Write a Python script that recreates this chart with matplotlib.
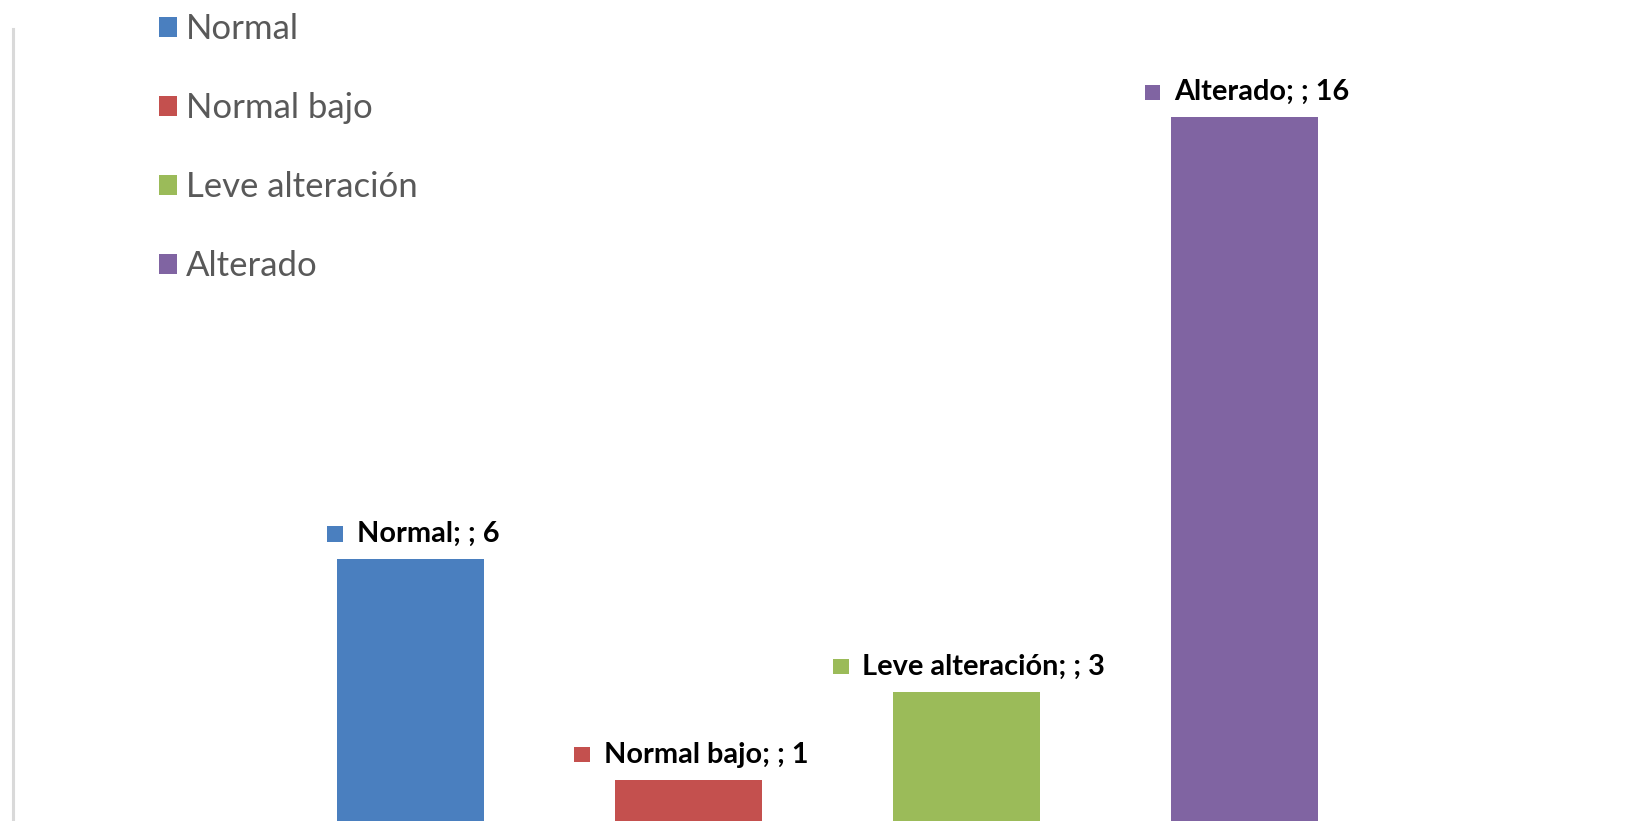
import matplotlib
matplotlib.use("Agg")
import matplotlib.pyplot as plt
from matplotlib.offsetbox import HPacker, DrawingArea, TextArea, AnnotationBbox
from matplotlib.patches import Rectangle

series = ["Normal", "Normal bajo", "Leve alteración", "Alterado"]
values = [6, 1, 3, 16]
colors = ["#4A7FBF", "#C4504E", "#9BBB59", "#8064A2"]
label_texts = [f"{s}; ; {v}" for s, v in zip(series, values)]

W, H, DPI = 16.26, 8.21, 100
fig = plt.figure(figsize=(W, H), dpi=DPI)
fig.patch.set_facecolor("white")

# axes: left edge at x=12px, top at y=29px, baseline just below the figure bottom
left_px, top_px, base_px = 12.5, 29, 824
ax = fig.add_axes([left_px / 1626, (821 - base_px) / 821,
                   1 - left_px / 1626, (base_px - top_px) / 821])
ax.set_facecolor("none")

xs = list(range(len(series)))
bars = []
for x, v, c, s in zip(xs, values, colors, series):
    b = ax.bar(x, v, width=0.53, color=c, label=s)
    bars.append(b)

spacing = 278.0
x0 = 410.5
ax.set_xlim((left_px - x0) / spacing, (1626 - x0) / spacing)
ax.set_ylim(0, 18)

for side in ["top", "right", "bottom"]:
    ax.spines[side].set_visible(False)
ax.spines["left"].set_color("#D9D9D9")
ax.spines["left"].set_linewidth(2.2)
ax.set_xticks([])
ax.set_yticks([])

# data labels with colour key
for x, v, c, t in zip(xs, values, colors, label_texts):
    da = DrawingArea(11, 11, 0, 0)
    da.add_artist(Rectangle((0, 0), 11, 11, facecolor=c, edgecolor="none"))
    ta = TextArea(t, textprops=dict(fontfamily="Lato", fontweight="bold",
                                      fontsize=20.8, color="black"))
    pack = HPacker(children=[da, ta], align="center", pad=0, sep=10)
    ab = AnnotationBbox(pack, (x, v), xybox=(2, 18), xycoords="data",
                        boxcoords="offset points", box_alignment=(0.5, 0.5),
                        frameon=False, pad=0, annotation_clip=False)
    ax.add_artist(ab)

leg = fig.legend(handles=[b.patches[0] for b in bars], labels=series,
                 loc="upper left", bbox_to_anchor=(135 / 1626, 1 + 11 / 821),
                 frameon=False, prop=dict(family="Lato", size=25),
                 handlelength=0.5, handleheight=0.5, handletextpad=0.26,
                 labelspacing=1.35, borderpad=0.2, labelcolor="#595959")

fig.savefig("out.png", dpi=DPI, facecolor="white")
